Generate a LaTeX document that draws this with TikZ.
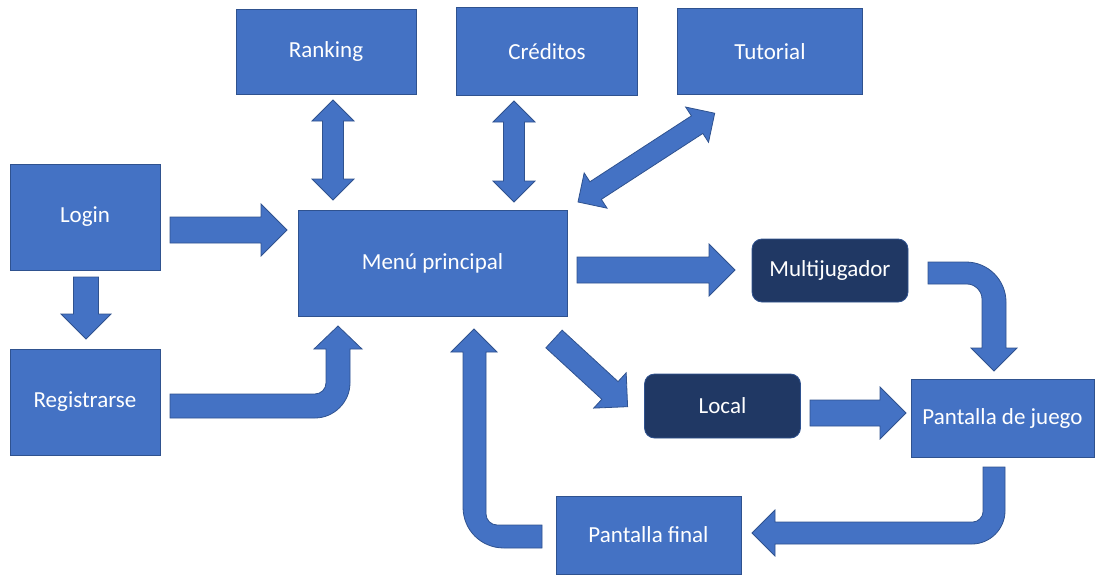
\documentclass[tikz,border=0pt]{standalone}
\usepackage{fontspec}
\setmainfont{Carlito}
\usepackage{tikz}
\usetikzlibrary{positioning, calc}

\definecolor{azul}{HTML}{4472C4}
\definecolor{borde}{HTML}{2F528F}
\definecolor{marino}{HTML}{203864}

\tikzset{
    caja/.style={rectangle, fill=azul, draw=borde, line width=0.8pt, text=white,
        font=\fontsize{23}{27}\selectfont, inner sep=0pt},
    modo/.style={caja, fill=marino, rounded corners=10pt},
    bloque/.style={fill=azul, draw=borde, line width=0.8pt, line join=miter},
    pics/flecha/.style n args={2}{code={
        \draw[bloque] (0,{-#2}) -- ({#1-2*#2},{-#2}) -- ({#1-2*#2},{-2*#2}) -- (#1,0)
            -- ({#1-2*#2},{2*#2}) -- ({#1-2*#2},{#2}) -- (0,{#2}) -- cycle;
    }},
    pics/doble/.style n args={2}{code={
        \draw[bloque] (0,0) -- ({2*#2},{-2*#2}) -- ({2*#2},{-#2}) -- ({#1-2*#2},{-#2})
            -- ({#1-2*#2},{-2*#2}) -- (#1,0) -- ({#1-2*#2},{2*#2}) -- ({#1-2*#2},{#2})
            -- ({2*#2},{#2}) -- ({2*#2},{2*#2}) -- cycle;
    }}
}

\begin{document}
\begin{tikzpicture}[x=1pt, y=-1pt]
                \useasboundingbox (0,0) rectangle (1102,578);

                \node[caja, minimum width=180pt, minimum height=85pt] (ranking) at (326,51.5) {Ranking};
                \node[caja, minimum width=181pt, minimum height=88pt] (creditos) at (547,51.5) {Créditos};
                \node[caja, minimum width=185pt, minimum height=86pt] (tutorial) at (770,51.5) {Tutorial};
                \node[caja, minimum width=150pt, minimum height=106pt] (login) at (85,217) {Login};
                \node[caja, minimum width=150pt, minimum height=106pt] (registro) at (85,402) {Registrarse};
                \node[caja, minimum width=269pt, minimum height=106pt] (menu) at (432.5,263) {Menú principal};
                \node[modo, minimum width=156pt, minimum height=63pt] (multi) at (830,270.5) {Multijugador};
                \node[modo, minimum width=156pt, minimum height=64pt] (local) at (722.5,406) {Local};
                \node[caja, minimum width=183pt, minimum height=78pt] (juego) at (1002.5,418) {Pantalla de juego};
                \node[caja, minimum width=185pt, minimum height=78pt] (final) at (648.5,535) {Pantalla final};

                \pic[rotate=90] at (333,200) {doble={100}{10.5}};
                \pic[rotate=90] at (514,202) {doble={101}{10.5}};
                \pic[rotate=33] at (578,202) {doble={163}{10.5}};
                \pic at (170,230) {flecha={117}{13}};
                \pic[rotate=-90] at (86,277) {flecha={62}{12.5}};
                \pic at (577,270) {flecha={158}{13}};
                \pic[rotate=-42.6] at (554,339) {flecha={100}{12}};
                \pic at (810,413) {flecha={96}{13}};

                \draw[bloque] (170,394) -- (315,394) .. controls (321,394) and (326,389) .. (326,383)
                    -- (326,349) -- (314,349) -- (338,326) -- (362,349) -- (350,349) -- (350,383)
                    .. controls (350,402) and (334,418) .. (315,418) -- (170,418) -- cycle;
                \draw[bloque] (928,262) -- (966,262) .. controls (988,262) and (1006,280) .. (1006,302)
                    -- (1006,348) -- (1017,348) -- (994,371) -- (971,348) -- (982,348) -- (982,299)
                    .. controls (982,291) and (975,284) .. (967,284) -- (928,284) -- cycle;
                \draw[bloque] (983,467) -- (1005,467) -- (1005,511) .. controls (1005,529) and (990,544) .. (972,544)
                    -- (775,544) -- (775,556) -- (752,533) -- (775,510) -- (775,522) -- (973,522)
                    .. controls (978,522) and (983,517) .. (983,512) -- cycle;
                \draw[bloque] (542,525) -- (497,525) .. controls (491,525) and (486,520) .. (486,514)
                    -- (486,352) -- (497,352) -- (474,329) -- (451,352) -- (463,352) -- (463,507)
                    .. controls (463,530) and (481,548) .. (504,548) -- (542,548) -- cycle;
            \end{tikzpicture}
\end{document}
